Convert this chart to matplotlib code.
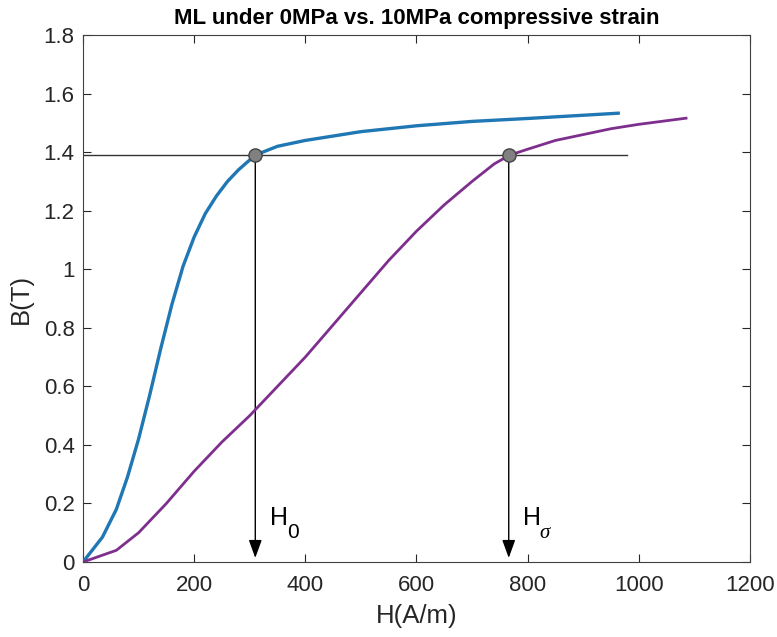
import matplotlib
matplotlib.use("Agg")
import matplotlib.pyplot as plt

H_0mpa = [0, 35, 60, 80, 100, 120, 140, 160, 180, 200, 220, 240, 260, 280, 310, 350, 400, 500, 600, 700, 800, 963]
B_0mpa = [0, 0.085, 0.18, 0.29, 0.42, 0.57, 0.73, 0.88, 1.01, 1.11, 1.19, 1.25, 1.30, 1.34, 1.39, 1.42, 1.44, 1.47, 1.49, 1.505, 1.515, 1.533]

H_10mpa = [0, 60, 100, 150, 200, 250, 300, 350, 400, 450, 500, 550, 600, 650, 700, 740, 768, 800, 850, 900, 950, 1000, 1085]
B_10mpa = [0, 0.04, 0.1, 0.2, 0.31, 0.41, 0.5, 0.6, 0.7, 0.81, 0.92, 1.03, 1.13, 1.22, 1.3, 1.36, 1.39, 1.41, 1.44, 1.46, 1.48, 1.495, 1.516]

B_ref = 1.39
H_ref_line_end = 979
H_points = [310, 766]
label_main = ["H", "H"]
label_sub = ["0", "\u03c3"]

plt.rcParams['font.family'] = ['Liberation Sans', 'DejaVu Sans']

TXT = '#262626'
fig = plt.figure(figsize=(7.77, 6.37), dpi=100)
ax = fig.add_axes([0.1068, 0.1177, 0.8584, 0.8273])

ax.plot([0, H_ref_line_end], [B_ref, B_ref], color='#333333', lw=1.0, zorder=2)
ax.plot(H_0mpa, B_0mpa, color='#1f77b4', lw=2.4, zorder=3)
ax.plot(H_10mpa, B_10mpa, color='#7E2F8E', lw=2.0, zorder=3)

for i, h in enumerate(H_points):
    ax.annotate('', xy=(h, 0.014), xytext=(h, B_ref),
                arrowprops=dict(arrowstyle='-|>,head_length=1.1,head_width=0.4', color='black',
                                lw=1.0, shrinkA=0, shrinkB=0), zorder=2)
    ax.plot([h], [B_ref], 'o', ms=9.5, mfc='#808080', mec='#444444', mew=1.0, zorder=4)
    ax.text(h + 26, 0.126, label_main[i], fontsize=18, color='black', va='baseline', ha='left')
    if label_sub[i] == "0":
        ax.text(h + 58, 0.082, label_sub[i], fontsize=15, color='black', va='baseline', ha='left')
    else:
        ax.text(h + 56, 0.082, label_sub[i], fontsize=15, color='black', va='baseline', ha='left',
                family='Liberation Serif', style='italic')

ax.set_xlim(0, 1200)
ax.set_ylim(0, 1.8)
ax.set_xticks([0, 200, 400, 600, 800, 1000, 1200])
ax.set_yticks([0, 0.2, 0.4, 0.6, 0.8, 1.0, 1.2, 1.4, 1.6, 1.8])
ax.set_yticklabels(['0', '0.2', '0.4', '0.6', '0.8', '1', '1.2', '1.4', '1.6', '1.8'])
ax.tick_params(direction='in', top=True, right=True, labelsize=16, colors=TXT, length=6)
ax.tick_params(axis='x', pad=9)
ax.tick_params(axis='y', pad=6)
for s in ax.spines.values():
    s.set_color('#404040')
    s.set_linewidth(0.8)
ax.set_xlabel('H(A/m)', fontsize=18.5, color=TXT, labelpad=6)
ax.set_ylabel('B(T)', fontsize=18.5, color=TXT, labelpad=8)
ax.set_title('ML under 0MPa vs. 10MPa compressive strain', fontsize=16, fontweight='bold', pad=8)

fig.savefig('out.png', dpi=100)
